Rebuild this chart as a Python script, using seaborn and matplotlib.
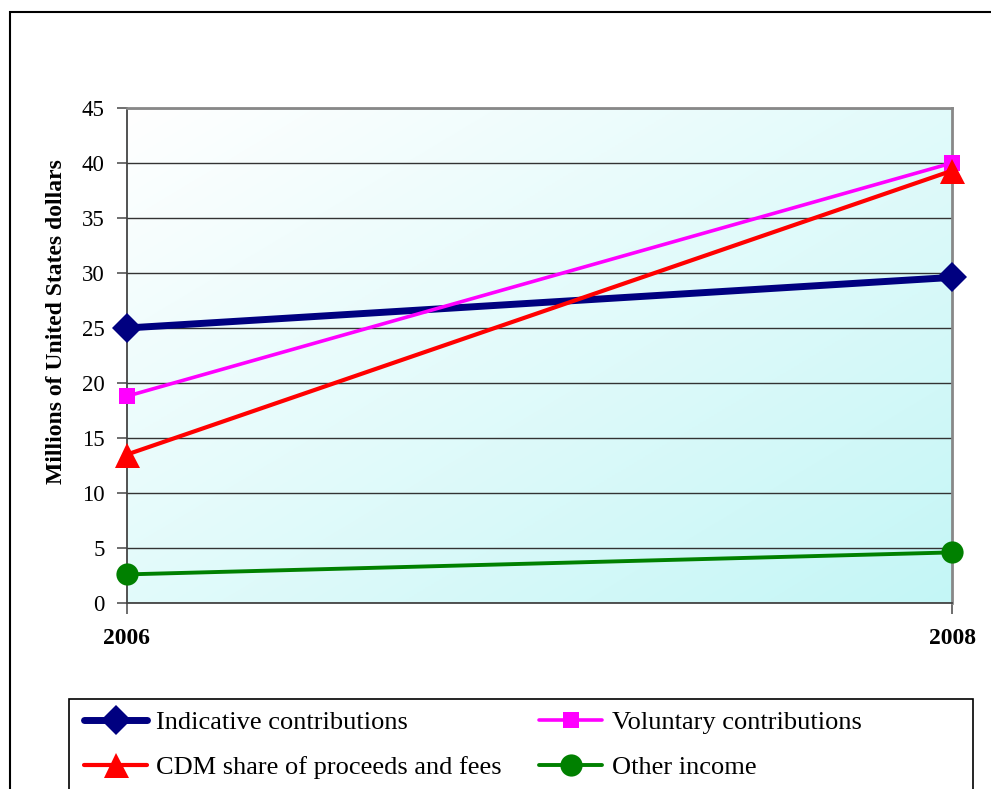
import numpy as np
import pandas as pd
import matplotlib
matplotlib.use("Agg")
import matplotlib.pyplot as plt
from matplotlib.patches import Rectangle
from matplotlib.colors import LinearSegmentedColormap
import seaborn as sns

# Income by source, millions of US dollars
years = [2006, 2008]
indicative = [25.0, 29.6]
voluntary = [18.8, 40.0]
cdm_share = [13.5, 39.3]
other_income = [2.6, 4.6]

series_names = [
    "Indicative contributions",
    "Voluntary contributions",
    "CDM share of proceeds and fees",
    "Other income",
]
series_values = [indicative, voluntary, cdm_share, other_income]

df = pd.DataFrame({
    "year": np.tile(years, len(series_names)),
    "value": np.concatenate(series_values),
    "series": np.repeat(series_names, len(years)),
})

sns.set_theme(style="white")
plt.rcParams["font.family"] = ["Liberation Serif", "DejaVu Serif"]
plt.rcParams.update({
    "text.color": "black",
    "axes.labelcolor": "black",
    "xtick.color": "black",
    "ytick.color": "black",
})

styles = {
    "Indicative contributions": dict(color="#000080", lw=5.0, marker="D", ms=15),
    "Voluntary contributions": dict(color="#FF00FF", lw=2.6, marker="s", ms=12),
    "CDM share of proceeds and fees": dict(color="#FF0000", lw=3.0, marker="^", ms=18),
    "Other income": dict(color="#008000", lw=2.8, marker="o", ms=16),
}

fig = plt.figure(figsize=(9.91, 7.89), dpi=100)
ax = fig.add_axes([127 / 991, 1 - 603 / 789, (952 - 127) / 991, (603 - 108) / 789])

# diagonal background shading in the plot area
cmap = LinearSegmentedColormap.from_list("bg", ["#FFFFFF", "#C4F6F6"])
gx, gy = np.meshgrid(np.linspace(0, 1, 300), np.linspace(0, 1, 300))
grad = (gx + gy) / 2
ax.imshow(grad, cmap=cmap, extent=[2006, 2008, 0, 45], origin="upper",
          aspect="auto", zorder=0, interpolation="bilinear")

for name in series_names:
    st = styles[name]
    sns.lineplot(
        data=df[df["series"] == name], x="year", y="value", ax=ax,
        color=st["color"], linewidth=st["lw"], marker=st["marker"],
        markersize=st["ms"], markeredgewidth=0, label=name, zorder=3,
        clip_on=False,
    )

ax.set_xlim(2006, 2008)
ax.set_ylim(0, 45)
ax.set_yticks(range(0, 46, 5))
ax.set_xticks(years)
ax.set_xticklabels([str(y) for y in years], fontweight="bold", fontsize=17)
ax.tick_params(axis="y", labelsize=16.5, length=7, width=1.2, color="#555555",
               labelcolor="black", direction="out", left=True, pad=9)
ax.tick_params(axis="x", length=8, width=1.2, color="#555555",
               labelcolor="black", direction="out", bottom=True, pad=10)

ax.yaxis.grid(True, color="#333333", linewidth=1.0, zorder=1)
ax.xaxis.grid(False)
ax.set_axisbelow(True)

for side in ["top", "right"]:
    ax.spines[side].set_color("#888888")
    ax.spines[side].set_linewidth(2.0)
ax.spines["left"].set_color("#444444")
ax.spines["left"].set_linewidth(1.3)
ax.spines["bottom"].set_color("#444444")
ax.spines["bottom"].set_linewidth(1.3)

ax.set_xlabel("")
ax.set_ylabel("Millions of United States dollars", fontsize=17,
              fontweight="bold", color="black")
ax.yaxis.set_label_coords(-0.073, 0.568)

ax.get_legend().remove()
handles, labels = ax.get_legend_handles_labels()
lookup = dict(zip(labels, handles))
# row-wise order in a two-column legend
order = ["Indicative contributions", "CDM share of proceeds and fees",
         "Voluntary contributions", "Other income"]
leg = fig.legend(
    [lookup[k] for k in order], order, ncol=2, loc="upper left",
    bbox_to_anchor=(72 / 991, 1 - 699 / 789),
    fontsize=19, frameon=False, handlelength=2.4, handletextpad=0.35,
    borderpad=0.45, labelspacing=0.8, columnspacing=1.4, borderaxespad=0,
    labelcolor="black",
)

# legend box, running off the bottom of the figure
fig.patches.append(Rectangle((69 / 991, -0.1), (973 - 69) / 991,
                             0.1 + 1 - 699 / 789, transform=fig.transFigure,
                             fill=False, edgecolor="black", linewidth=1.2))

# outer frame around the chart
fig.patches.append(Rectangle((10 / 991, -0.2), 1.2, 1 - 12 / 789 + 0.2,
                             transform=fig.transFigure, fill=False,
                             edgecolor="black", linewidth=1.5))

fig.savefig("out.png", dpi=100)
